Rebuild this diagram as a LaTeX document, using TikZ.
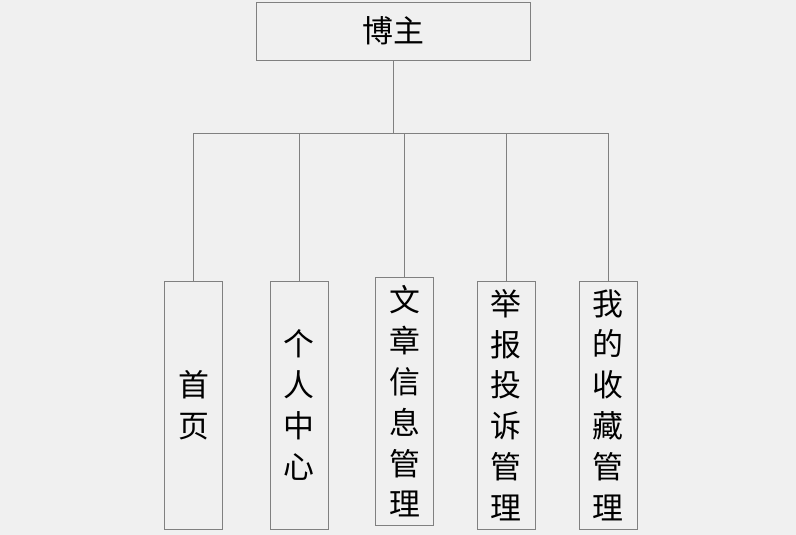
\documentclass[tikz,border=0pt]{standalone}
\usepackage{fontspec}
\newfontfamily\cjk{Noto Sans CJK SC}
\usetikzlibrary{calc}
\definecolor{bg}{RGB}{240,240,240}
\definecolor{edge}{RGB}{128,128,128}
\tikzset{
	box/.style={draw=edge, line width=0.9bp, inner sep=0pt, align=center, font=\cjk\fontsize{31}{41}\selectfont},
	leaf/.style={box, minimum width=58bp, minimum height=248bp},
	link/.style={draw=edge, line width=0.9bp},
}
\begin{document}
\begin{tikzpicture}[x=1bp, y=-1bp]
	%%%%% START %%%%%
	
	\fill[bg] (0, 0) rectangle (796, 535);
	\useasboundingbox (0, 0) rectangle (796, 535);
	
	\node[box, minimum width=274bp, minimum height=58bp] (bozhu) at (393, 31) {博主};
	\coordinate (bus) at (393, 133);
	
	\node[leaf] (shouye) at (193.5, 405) {首\\页};
	\node[leaf] (geren) at (299, 405) {个\\人\\中\\心};
	\node[leaf] (wenzhang) at (404.5, 401.5) {文\\章\\信\\息\\管\\理};
	\node[leaf] (jubao) at (506, 405) {举\\报\\投\\诉\\管\\理};
	\node[leaf] (shoucang) at (608, 405) {我\\的\\收\\藏\\管\\理};
	
	\draw[link] (bozhu.south) -- (bus);
	\foreach \m in {shouye, geren, wenzhang, jubao, shoucang}
		\draw[link] (bus) -| (\m.north);
	
	%%%%% END %%%%%
\end{tikzpicture}
\end{document}
